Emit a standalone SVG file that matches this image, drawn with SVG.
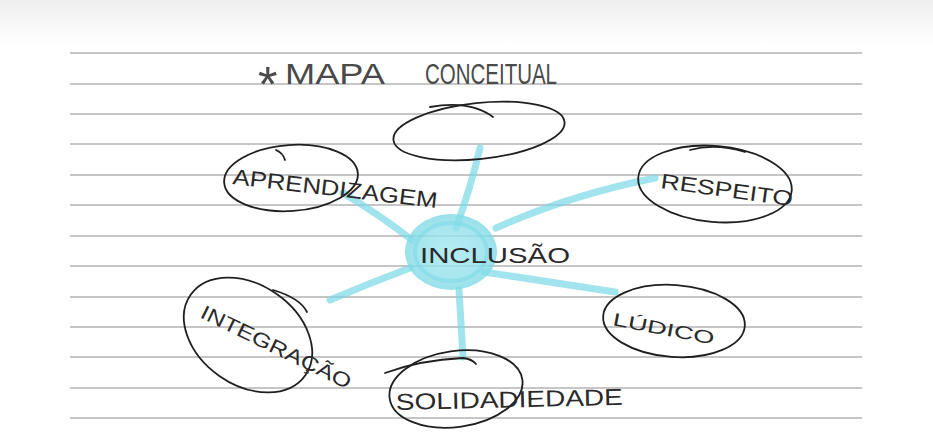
<svg xmlns="http://www.w3.org/2000/svg" width="933" height="447" viewBox="0 0 933 447">
<defs>
<style>
.rule{stroke:#8c8c8c;stroke-width:1;fill:none}
.ink{stroke:#1f1f1f;stroke-width:1.8;fill:none;stroke-linecap:round;stroke-linejoin:round}
.hand{font-family:"Liberation Sans","DejaVu Sans",sans-serif;fill:#2a2a2a;font-weight:normal}
.title{font-family:"Liberation Sans","DejaVu Sans",sans-serif;fill:#4a4a4a;font-weight:normal}
.spoke{stroke:#7ad8e5;stroke-width:7;stroke-linecap:round;fill:none;opacity:0.7}
</style>
<linearGradient id="topband" x1="0" y1="0" x2="0" y2="1">
<stop offset="0" stop-color="#efefef"/>
<stop offset="1" stop-color="#ffffff"/>
</linearGradient>
<radialGradient id="blob" cx="0.5" cy="0.5" r="0.5">
<stop offset="0" stop-color="#a6e7ef"/>
<stop offset="0.75" stop-color="#8fe0ea"/>
<stop offset="1" stop-color="#7fd9e5"/>
</radialGradient>
</defs>
<rect x="0" y="0" width="933" height="447" fill="#ffffff"/>
<rect x="0" y="0" width="933" height="45" fill="url(#topband)"/>
<g id="rules">
<line class="rule" x1="70" y1="53" x2="862" y2="53"/>
<line class="rule" x1="70" y1="84" x2="862" y2="84"/>
<line class="rule" x1="70" y1="114" x2="862" y2="114"/>
<line class="rule" x1="70" y1="144" x2="862" y2="144"/>
<line class="rule" x1="70" y1="175" x2="862" y2="175"/>
<line class="rule" x1="70" y1="205" x2="862" y2="205"/>
<line class="rule" x1="70" y1="236" x2="862" y2="236"/>
<line class="rule" x1="70" y1="266" x2="862" y2="266"/>
<line class="rule" x1="70" y1="297" x2="862" y2="297"/>
<line class="rule" x1="70" y1="327" x2="862" y2="327"/>
<line class="rule" x1="70" y1="357" x2="862" y2="357"/>
<line class="rule" x1="70" y1="388" x2="862" y2="388"/>
<line class="rule" x1="70" y1="418" x2="862" y2="418"/>
</g>
<g id="title">
<text class="title" x="258" y="102" font-size="50">*</text>
<text class="title" x="285" y="84" font-size="29" textLength="100" lengthAdjust="spacingAndGlyphs">MAPA</text>
<text class="title" x="425" y="84" font-size="29" textLength="132" lengthAdjust="spacingAndGlyphs">CONCEITUAL</text>
</g>
<g id="connectors">
<path class="spoke" d="M480,148 Q470,190 456,228"/>
<path class="spoke" d="M343,193 Q380,215 412,240"/>
<path class="spoke" d="M496,228 Q570,195 655,178"/>
<path class="spoke" d="M484,272 Q550,282 615,292"/>
<path class="spoke" d="M459,290 Q461,325 463,357"/>
<path class="spoke" d="M330,300 Q370,283 410,268"/>
</g>
<g id="node-inclusao">
<ellipse cx="451" cy="252" rx="46" ry="38" fill="url(#blob)" opacity="0.8"/>
<ellipse cx="451" cy="252" rx="36" ry="29" fill="none" stroke="#7ad8e5" stroke-width="4" opacity="0.5"/>
<text class="hand" x="420" y="263" font-size="22" textLength="150" lengthAdjust="spacingAndGlyphs">INCLUSÃO</text>
</g>
<g id="node-empty">
<ellipse class="ink" cx="479" cy="131" rx="86" ry="28" transform="rotate(-6 479 131)"/>
<path class="ink" d="M430,107 Q470,100 493,117"/>
</g>
<g id="node-aprendizagem">
<ellipse class="ink" cx="291" cy="178" rx="67" ry="33" transform="rotate(-4 291 178)"/>
<path class="ink" d="M276,150 Q283,153 285,160"/>
<text class="hand" x="232" y="184" font-size="22" textLength="206" lengthAdjust="spacingAndGlyphs" transform="rotate(6.7 232 184)">APRENDIZAGEM</text>
</g>
<g id="node-respeito">
<ellipse class="ink" cx="715" cy="184" rx="77" ry="38" transform="rotate(5 715 184)"/>
<path class="ink" d="M690,150 Q715,143 745,152"/>
<text class="hand" x="660" y="188" font-size="21" textLength="133" lengthAdjust="spacingAndGlyphs" transform="rotate(7.8 660 188)">RESPEITO</text>
</g>
<g id="node-ludico">
<ellipse class="ink" cx="674" cy="321" rx="71" ry="36" transform="rotate(4 674 321)"/>
<text class="hand" x="612" y="325" font-size="18" textLength="103" lengthAdjust="spacingAndGlyphs" transform="rotate(11 612 325)">LÚDICO</text>
</g>
<g id="node-solidariedade">
<ellipse class="ink" cx="456" cy="389" rx="67" ry="38" transform="rotate(-8 456 389)"/>
<path class="ink" d="M385,373 Q420,360 463,358 Q472,359 476,364"/>
<text class="hand" x="396" y="410" font-size="23" textLength="227" lengthAdjust="spacingAndGlyphs" transform="rotate(-1.3 396 410)">SOLIDADIEDADE</text>
</g>
<g id="node-integracao">
<ellipse class="ink" cx="248" cy="335" rx="70" ry="50" transform="rotate(35 248 335)"/>
<path class="ink" d="M273,290 Q300,298 307,312"/>
<text class="hand" x="199" y="317" font-size="20" textLength="165" lengthAdjust="spacingAndGlyphs" transform="rotate(26 199 317)">INTEGRAÇÃO</text>
</g>
</svg>
